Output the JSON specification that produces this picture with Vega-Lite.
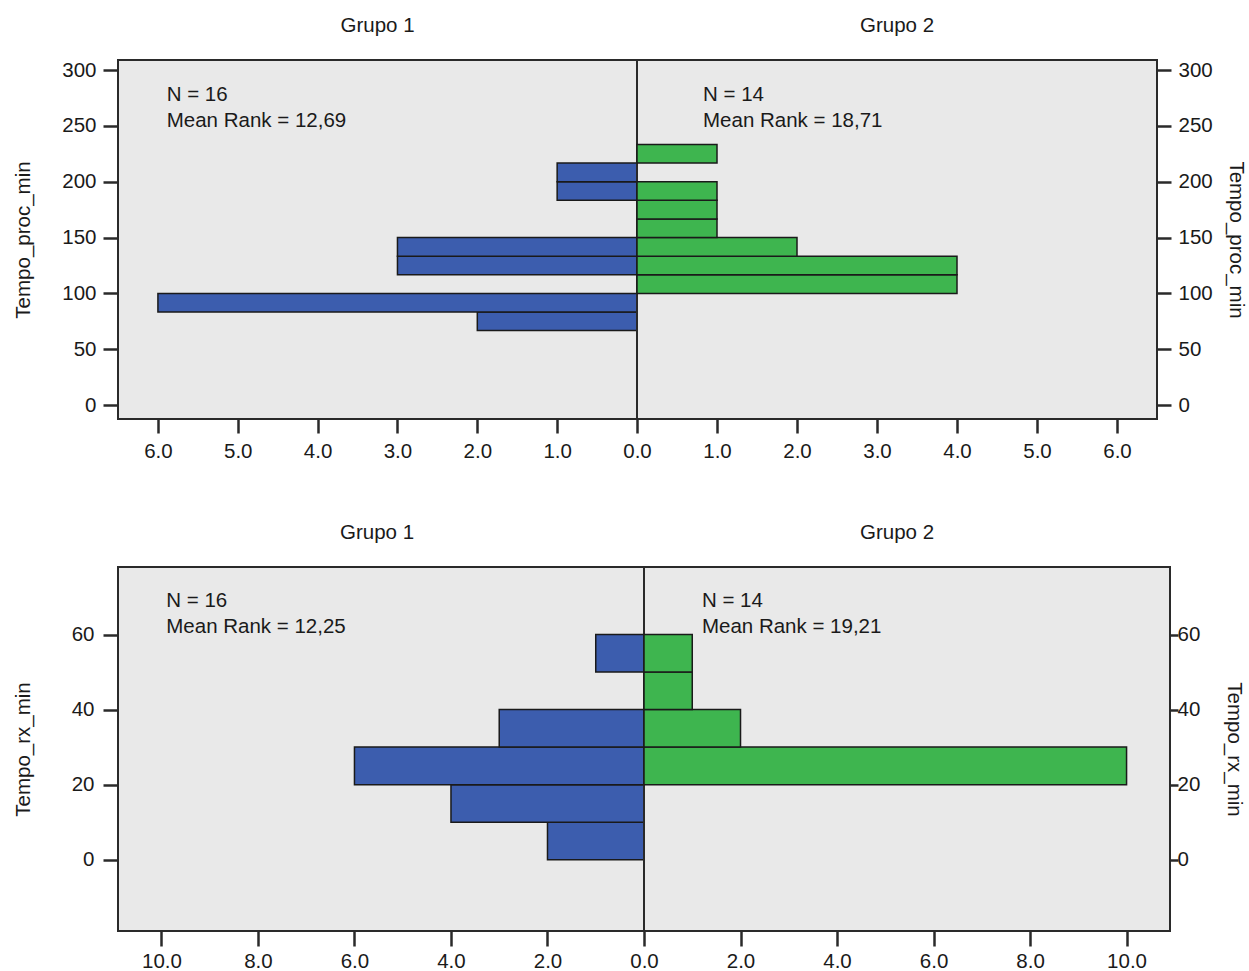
{
  "$schema": "https://vega.github.io/schema/vega-lite/v6.json",
  "padding": {"left": 12, "top": 14, "right": 0, "bottom": 0},
  "background": "white",
  "config": {
    "font": "Liberation Sans",
    "view": {"fill": "#e9e9e9", "stroke": "#2a2a2a", "strokeWidth": 2},
    "axis": {
      "domain": false, "grid": false,
      "tickColor": "#2a2a2a", "tickWidth": 2.5,
      "labelFont": "Liberation Sans", "labelFontSize": 20.5, "labelColor": "#1a1a1a",
      "labelFlush": false, "labelOverlap": false,
      "titleFont": "Liberation Sans", "titleFontSize": 20.5, "titleFontWeight": "normal", "titleColor": "#1a1a1a"
    },
    "title": {"font": "Liberation Sans", "fontSize": 20.5, "fontWeight": "normal", "color": "#1a1a1a", "anchor": "middle", "offset": 24},
    "concat": {"spacing": 0}
  },
  "datasets": {
    "bins": [
      {"variavel": "Tempo_proc_min", "grupo": "Grupo 1", "inicio": 66.67, "fim": 83.33, "n": 2},
      {"variavel": "Tempo_proc_min", "grupo": "Grupo 1", "inicio": 83.33, "fim": 100, "n": 6},
      {"variavel": "Tempo_proc_min", "grupo": "Grupo 1", "inicio": 116.67, "fim": 133.33, "n": 3},
      {"variavel": "Tempo_proc_min", "grupo": "Grupo 1", "inicio": 133.33, "fim": 150, "n": 3},
      {"variavel": "Tempo_proc_min", "grupo": "Grupo 1", "inicio": 183.33, "fim": 200, "n": 1},
      {"variavel": "Tempo_proc_min", "grupo": "Grupo 1", "inicio": 200, "fim": 216.67, "n": 1},
      {"variavel": "Tempo_proc_min", "grupo": "Grupo 2", "inicio": 100, "fim": 116.67, "n": 4},
      {"variavel": "Tempo_proc_min", "grupo": "Grupo 2", "inicio": 116.67, "fim": 133.33, "n": 4},
      {"variavel": "Tempo_proc_min", "grupo": "Grupo 2", "inicio": 133.33, "fim": 150, "n": 2},
      {"variavel": "Tempo_proc_min", "grupo": "Grupo 2", "inicio": 150, "fim": 166.67, "n": 1},
      {"variavel": "Tempo_proc_min", "grupo": "Grupo 2", "inicio": 166.67, "fim": 183.33, "n": 1},
      {"variavel": "Tempo_proc_min", "grupo": "Grupo 2", "inicio": 183.33, "fim": 200, "n": 1},
      {"variavel": "Tempo_proc_min", "grupo": "Grupo 2", "inicio": 216.67, "fim": 233.33, "n": 1},
      {"variavel": "Tempo_rx_min", "grupo": "Grupo 1", "inicio": 0, "fim": 10, "n": 2},
      {"variavel": "Tempo_rx_min", "grupo": "Grupo 1", "inicio": 10, "fim": 20, "n": 4},
      {"variavel": "Tempo_rx_min", "grupo": "Grupo 1", "inicio": 20, "fim": 30, "n": 6},
      {"variavel": "Tempo_rx_min", "grupo": "Grupo 1", "inicio": 30, "fim": 40, "n": 3},
      {"variavel": "Tempo_rx_min", "grupo": "Grupo 1", "inicio": 50, "fim": 60, "n": 1},
      {"variavel": "Tempo_rx_min", "grupo": "Grupo 2", "inicio": 20, "fim": 30, "n": 10},
      {"variavel": "Tempo_rx_min", "grupo": "Grupo 2", "inicio": 30, "fim": 40, "n": 2},
      {"variavel": "Tempo_rx_min", "grupo": "Grupo 2", "inicio": 40, "fim": 50, "n": 1},
      {"variavel": "Tempo_rx_min", "grupo": "Grupo 2", "inicio": 50, "fim": 60, "n": 1}
    ],
    "stats": [
      {"variavel": "Tempo_proc_min", "grupo": "Grupo 1", "texto": "N = 16\nMean Rank = 12,69"},
      {"variavel": "Tempo_proc_min", "grupo": "Grupo 2", "texto": "N = 14\nMean Rank = 18,71"},
      {"variavel": "Tempo_rx_min", "grupo": "Grupo 1", "texto": "N = 16\nMean Rank = 12,25"},
      {"variavel": "Tempo_rx_min", "grupo": "Grupo 2", "texto": "N = 14\nMean Rank = 19,21"}
    ]
  },
  "spacing": 58,
  "vconcat": [
    {
      "spacing": 0,
      "bounds": "flush",
      "hconcat": [
        {
          "width": 519, "height": 359,
          "title": "Grupo 1",
          "layer": [
            {
              "data": {"name": "bins"},
              "transform": [{"filter": "datum.variavel == 'Tempo_proc_min' && datum.grupo == 'Grupo 1'"}],
              "mark": {"type": "bar", "color": "#3c5dae", "stroke": "#1a1a1a", "strokeWidth": 1.5},
              "encoding": {
                "y": {"field": "inicio", "type": "quantitative",
                      "scale": {"domain": [-12.5, 309], "nice": false, "zero": false},
                      "axis": {"orient": "left", "values": [0, 50, 100, 150, 200, 250, 300], "title": "Tempo_proc_min",
                               "tickSize": 15, "labelPadding": 7, "minExtent": 60, "maxExtent": 60, "titlePadding": 25}},
                "y2": {"field": "fim"},
                "x": {"field": "n", "type": "quantitative",
                      "scale": {"domain": [0, 6.5], "reverse": true, "nice": false, "zero": false},
                      "axis": {"values": [0, 1, 2, 3, 4, 5, 6], "format": ".1f", "title": null, "tickSize": 14, "labelPadding": 8}},
                "x2": {"datum": 0}
              }
            },
            {
              "data": {"name": "stats"},
              "transform": [{"filter": "datum.variavel == 'Tempo_proc_min' && datum.grupo == 'Grupo 1'"}],
              "mark": {"type": "text", "align": "left", "baseline": "alphabetic", "lineBreak": "\n", "lineHeight": 26, "fontSize": 20.5, "color": "#1a1a1a"},
              "encoding": {"text": {"field": "texto"}, "x": {"datum": 5.89}, "y": {"datum": 272.3}}
            }
          ]
        },
        {
          "width": 520, "height": 359,
          "title": "Grupo 2",
          "layer": [
            {
              "data": {"name": "bins"},
              "transform": [{"filter": "datum.variavel == 'Tempo_proc_min' && datum.grupo == 'Grupo 2'"}],
              "mark": {"type": "bar", "color": "#3eb54f", "stroke": "#1a1a1a", "strokeWidth": 1.5},
              "encoding": {
                "y": {"field": "inicio", "type": "quantitative",
                      "scale": {"domain": [-12.5, 309], "nice": false, "zero": false},
                      "axis": {"orient": "right", "values": [0, 50, 100, 150, 200, 250, 300], "title": "Tempo_proc_min",
                               "tickSize": 14, "labelPadding": 7, "minExtent": 56, "maxExtent": 56, "titlePadding": 12}},
                "y2": {"field": "fim"},
                "x": {"field": "n", "type": "quantitative",
                      "scale": {"domain": [0, 6.5], "nice": false, "zero": false},
                      "axis": {"values": [1, 2, 3, 4, 5, 6], "format": ".1f", "title": null, "tickSize": 14, "labelPadding": 8}},
                "x2": {"datum": 0}
              }
            },
            {
              "data": {"name": "stats"},
              "transform": [{"filter": "datum.variavel == 'Tempo_proc_min' && datum.grupo == 'Grupo 2'"}],
              "mark": {"type": "text", "align": "left", "baseline": "alphabetic", "lineBreak": "\n", "lineHeight": 26, "fontSize": 20.5, "color": "#1a1a1a"},
              "encoding": {"text": {"field": "texto"}, "x": {"datum": 0.825}, "y": {"datum": 272.3}}
            }
          ]
        }
      ]
    },
    {
      "spacing": 0,
      "bounds": "flush",
      "hconcat": [
        {
          "width": 526, "height": 364,
          "title": {"text": "Grupo 1", "dx": -4},
          "layer": [
            {
              "data": {"name": "bins"},
              "transform": [{"filter": "datum.variavel == 'Tempo_rx_min' && datum.grupo == 'Grupo 1'"}],
              "mark": {"type": "bar", "color": "#3c5dae", "stroke": "#1a1a1a", "strokeWidth": 1.5},
              "encoding": {
                "y": {"field": "inicio", "type": "quantitative",
                      "scale": {"domain": [-19, 78], "nice": false, "zero": false},
                      "axis": {"orient": "left", "values": [0, 20, 40, 60], "title": "Tempo_rx_min",
                               "tickSize": 15, "labelPadding": 9, "minExtent": 60, "maxExtent": 60, "titlePadding": 25}},
                "y2": {"field": "fim"},
                "x": {"field": "n", "type": "quantitative",
                      "scale": {"domain": [0, 10.9], "reverse": true, "nice": false, "zero": false},
                      "axis": {"values": [0, 2, 4, 6, 8, 10], "format": ".1f", "title": null, "tickSize": 15, "labelPadding": 5}},
                "x2": {"datum": 0}
              }
            },
            {
              "data": {"name": "stats"},
              "transform": [{"filter": "datum.variavel == 'Tempo_rx_min' && datum.grupo == 'Grupo 1'"}],
              "mark": {"type": "text", "align": "left", "baseline": "alphabetic", "lineBreak": "\n", "lineHeight": 26, "fontSize": 20.5, "color": "#1a1a1a"},
              "encoding": {"text": {"field": "texto"}, "x": {"datum": 9.9}, "y": {"datum": 67.3}}
            }
          ]
        },
        {
          "width": 526, "height": 364,
          "title": {"text": "Grupo 2", "dx": -10},
          "layer": [
            {
              "data": {"name": "bins"},
              "transform": [{"filter": "datum.variavel == 'Tempo_rx_min' && datum.grupo == 'Grupo 2'"}],
              "mark": {"type": "bar", "color": "#3eb54f", "stroke": "#1a1a1a", "strokeWidth": 1.5},
              "encoding": {
                "y": {"field": "inicio", "type": "quantitative",
                      "scale": {"domain": [-19, 78], "nice": false, "zero": false},
                      "axis": {"orient": "right", "values": [0, 20, 40, 60], "title": "Tempo_rx_min",
                               "tickSize": 8, "labelPadding": -1, "minExtent": 40, "maxExtent": 40, "titlePadding": 13}},
                "y2": {"field": "fim"},
                "x": {"field": "n", "type": "quantitative",
                      "scale": {"domain": [0, 10.9], "nice": false, "zero": false},
                      "axis": {"values": [2, 4, 6, 8, 10], "format": ".1f", "title": null, "tickSize": 15, "labelPadding": 5}},
                "x2": {"datum": 0}
              }
            },
            {
              "data": {"name": "stats"},
              "transform": [{"filter": "datum.variavel == 'Tempo_rx_min' && datum.grupo == 'Grupo 2'"}],
              "mark": {"type": "text", "align": "left", "baseline": "alphabetic", "lineBreak": "\n", "lineHeight": 26, "fontSize": 20.5, "color": "#1a1a1a"},
              "encoding": {"text": {"field": "texto"}, "x": {"datum": 1.2}, "y": {"datum": 67.3}}
            }
          ]
        }
      ]
    }
  ]
}
